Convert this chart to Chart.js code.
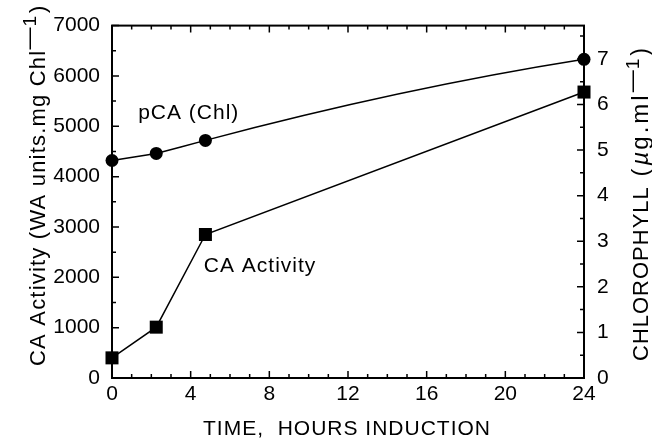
<!DOCTYPE html>
<html>
<head>
<meta charset="utf-8">
<script src="https://cdn.jsdelivr.net/npm/chart.js@4/dist/chart.umd.min.js"></script>
<style>
  html, body { margin: 0; padding: 0; background: #fff; }
  #wrap { width: 652px; height: 442px; }
</style>
</head>
<body>
<div id="wrap"><canvas id="chart"></canvas></div>
<script>
// Data
const hours = [0, 2.25, 4.75, 24];
const caActivity = [400, 1010, 2850, 5680];
const pcaChl = [4320, 4460, 4720, 6330];
const xTicks = [0, 4, 8, 12, 16, 20, 24];
const leftTicks = [0, 1000, 2000, 3000, 4000, 5000, 6000, 7000];
const rightTicks = [0, 1, 2, 3, 4, 5, 6, 7];

const FONT = "'Liberation Sans', Arial, Helvetica, sans-serif";
const tickFont = { family: FONT, size: 21 };
const plain = (v) => String(v);

const toPoints = (xs, ys) => xs.map((x, i) => ({ x: x, y: ys[i] }));

// Box, inward ticks, titles and the two curve labels
const frame = {
  id: "frame",
  beforeDatasetsDraw(chart) {
    const { ctx, chartArea: a, scales } = chart;
    ctx.save();
    ctx.strokeStyle = "#000";
    ctx.lineWidth = 2;
    ctx.strokeRect(a.left, a.top, a.right - a.left, a.bottom - a.top);

    ctx.lineWidth = 1.5;
    ctx.beginPath();
    // x ticks, bottom and top
    for (let v = 0; v <= 24; v += 1) {
      const px = scales.x.getPixelForValue(v);
      const len = v % 4 === 0 ? 7 : 4;
      ctx.moveTo(px, a.bottom); ctx.lineTo(px, a.bottom - len);
      ctx.moveTo(px, a.top); ctx.lineTo(px, a.top + len);
    }
    // left ticks
    for (let v = 0; v <= 7000; v += 500) {
      const py = scales.y.getPixelForValue(v);
      const len = v % 1000 === 0 ? 7 : 4;
      ctx.moveTo(a.left, py); ctx.lineTo(a.left + len, py);
    }
    // right ticks
    for (let v = 0; v <= 7.5; v += 0.5) {
      const py = scales.y2.getPixelForValue(v);
      const len = v % 1 === 0 ? 7 : 4;
      ctx.moveTo(a.right, py); ctx.lineTo(a.right - len, py);
    }
    ctx.stroke();
    ctx.restore();
  },
  afterDraw(chart) {
    const { ctx, scales } = chart;
    ctx.save();
    ctx.fillStyle = "#000";
    ctx.textBaseline = "alphabetic";
    ctx.letterSpacing = "1px";

    ctx.font = "21px " + FONT;
    ctx.textAlign = "center";
    ctx.fillText("TIME,  HOURS INDUCTION", 347, 435);

    ctx.textAlign = "left";
    ctx.fillText("pCA (Chl)", scales.x.getPixelForValue(1.33), scales.y.getPixelForValue(5145));
    ctx.fillText("CA Activity", scales.x.getPixelForValue(4.67), scales.y.getPixelForValue(2100));

    drawVertical(ctx, [
      { t: "CA Activity (WA units.mg Chl", s: 22, dy: 0, ls: 1.2 },
      { t: "\u2014", s: 22, dy: -9, ls: 1 },
      { t: "1", s: 19, dy: -9, ls: 3 },
      { t: ")", s: 22, dy: 0, ls: 0 },
    ], 45, 366);
    drawVertical(ctx, [
      { t: "CHLOROPHYLL", s: 22, dy: 0, ls: 1 },
      { t: " (", s: 24, dy: 0, ls: 3 },
      { t: "\u00b5", s: 24, dy: 0, ls: 2, it: true },
      { t: "g.ml", s: 24, dy: 0, ls: 3 },
      { t: "\u2014", s: 22, dy: -9, ls: 1 },
      { t: "1", s: 19, dy: -9, ls: 3 },
      { t: ")", s: 23, dy: 0, ls: 0 },
    ], 648, 361);
    ctx.restore();
  },
};

// text rotated to read bottom-up, baseline at screen x = bx, starting at y0
function drawVertical(ctx, parts, bx, y0) {
  ctx.save();
  ctx.translate(bx, y0);
  ctx.rotate(-Math.PI / 2);
  ctx.textAlign = "left";
  let x = 0;
  parts.forEach((p) => {
    ctx.font = (p.it ? "italic " : "") + p.s + "px " + FONT;
    ctx.letterSpacing = "0px";
    const w = ctx.measureText(p.t).width;
    ctx.letterSpacing = p.ls + "px";
    ctx.fillText(p.t, x, p.dy);
    x += w + p.ls * p.t.length;
  });
  ctx.restore();
}

// bend the last pCA segment a little, like the hand-fitted curve
const bend = {
  id: "bend",
  beforeDatasetDraw(chart, args) {
    if (args.index !== 0) return;
    const line = args.meta.dataset;
    line.updateControlPoints(chart.chartArea, "x");
    const pts = args.meta.data;
    const p = pts[pts.length - 2];
    const q = pts[pts.length - 1];
    const dx = (q.x - p.x) / 3;
    const slope = (q.y - p.y) / (q.x - p.x);
    p.cp2x = p.x + dx; p.cp2y = p.y + dx * slope * 1.24;
    q.cp1x = q.x - dx; q.cp1y = q.y - dx * slope * 0.74;
  },
};

new Chart(document.getElementById("chart"), {
  type: "line",
  data: {
    datasets: [
      {
        label: "pCA (Chl)",
        data: toPoints(hours, pcaChl),
        borderColor: "#000",
        borderWidth: 1.5,
        tension: 0.0001,
        pointStyle: "circle",
        pointRadius: 6.5,
        pointBackgroundColor: "#000",
        pointBorderWidth: 0,
        clip: false,
        yAxisID: "y",
      },
      {
        label: "CA Activity",
        data: toPoints(hours, caActivity),
        borderColor: "#000",
        borderWidth: 1.5,
        tension: 0,
        pointStyle: "rect",
        pointRadius: 9.2,
        pointBackgroundColor: "#000",
        pointBorderWidth: 0,
        clip: false,
        yAxisID: "y",
      },
    ],
  },
  options: {
    responsive: true,
    maintainAspectRatio: false,
    animation: false,
    layout: { padding: { top: 18, left: 0, right: 0, bottom: 0 } },
    plugins: { legend: { display: false }, tooltip: { enabled: false } },
    scales: {
      x: {
        type: "linear",
        min: 0,
        max: 24,
        afterBuildTicks: (s) => { s.ticks = xTicks.map((v) => ({ value: v })); },
        ticks: { font: tickFont, color: "#000", padding: 4, maxRotation: 0, callback: plain },
        grid: { display: false, drawTicks: false },
        border: { display: false },
        afterFit: (s) => { s.height = 64; },
      },
      y: {
        position: "left",
        min: 0,
        max: 7000,
        afterBuildTicks: (s) => { s.ticks = leftTicks.map((v) => ({ value: v })); },
        ticks: { font: tickFont, color: "#000", padding: 12, callback: plain },
        grid: { display: false, drawTicks: false },
        border: { display: false },
        afterFit: (s) => { s.width = 112; },
      },
      y2: {
        position: "right",
        min: 0,
        max: 7.73,
        afterBuildTicks: (s) => { s.ticks = rightTicks.map((v) => ({ value: v })); },
        ticks: { font: tickFont, color: "#000", padding: 13, callback: plain },
        grid: { display: false, drawTicks: false },
        border: { display: false },
        afterFit: (s) => { s.width = 68; },
      },
    },
  },
  plugins: [frame, bend],
});
</script>
</body>
</html>
